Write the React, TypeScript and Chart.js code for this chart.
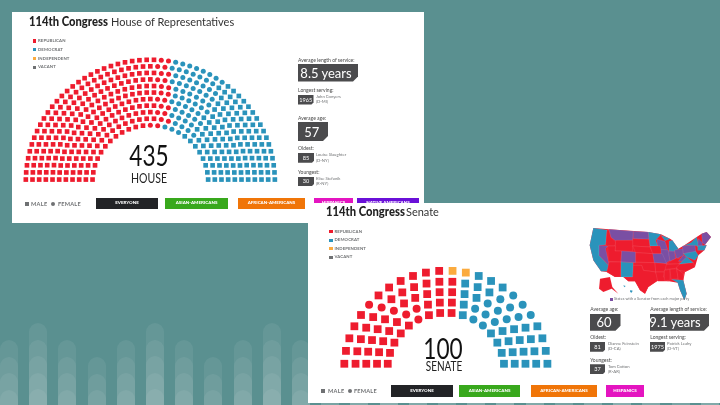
import React, { useEffect, useRef } from "react";
import { Chart, registerables } from "chart.js";

Chart.register(...registerables);

const FONT = "Lato, 'Open Sans', sans-serif";
const RED = "#ee1c2e";
const BLUE = "#2a93bb";
const ORANGE = "#fbab3f";
const PURPLE = "#7a4fa3";
const GREY = "#6f7173";
const DARK = "#4b4b4d";

// House: rows from the inside out
const houseRadii = [59, 65.8, 72.6, 79.4, 86.2, 93, 99.8, 106.6, 113.4, 120.2, 127];
const houseRepMale = [12, 15, 16, 18, 19, 21, 22, 23, 25, 26, 28];
const houseRepFemale = [2, 2, 2, 2, 2, 2, 2, 2, 2, 2, 2];
const houseDemFemale = [3, 4, 4, 5, 5, 6, 6, 7, 7, 7, 8];
const houseDemMale = [8, 7, 9, 9, 11, 11, 12, 13, 14, 16, 16];

// Senate: rows from the inside out. R/r republican male/female, D/d democrat male/female, I independent
const senateRadii = [60, 71, 82, 93, 104.5];
const senateRows = [
  "RRRRRrRRRDddDDDD",
  "RRRRRrrRRRDdddDDDD",
  "RRRRRrRRRRRDDdddDDDD",
  "RRRRRrRRRRRRDDDdddDDDD",
  "RRRRRrRRRRRRIIDDDdddDDDD",
];

const legendLabels = ["REPUBLICAN", "DEMOCRAT", "INDEPENDENT", "VACANT"];
const legendColors = [RED, BLUE, ORANGE, GREY];

const stripeTops = [340, 323, 340, 357];

type Seat = { x: number; y: number };

function seatAt(radius: number, lift: number, index: number, count: number): Seat {
  const start = Math.asin(lift / radius);
  const a = Math.PI - start - ((Math.PI - 2 * start) * index) / (count - 1);
  return { x: radius * Math.cos(a), y: radius * Math.sin(a) };
}

function houseSeats() {
  const groups: Seat[][] = [[], [], [], []];
  houseRadii.forEach((r, i) => {
    const counts = [houseRepMale[i], houseRepFemale[i], houseDemFemale[i], houseDemMale[i]];
    const total = counts.reduce((a, b) => a + b, 0);
    let idx = 0;
    counts.forEach((c, g) => {
      for (let k = 0; k < c; k++) groups[g].push(seatAt(r, 2.5, idx++, total));
    });
  });
  return groups;
}

function senateSeats() {
  const groups: Record<string, Seat[]> = { R: [], r: [], D: [], d: [], I: [] };
  senateRows.forEach((row, i) => {
    row.split("").forEach((c, idx) => groups[c].push(seatAt(senateRadii[i], 6, idx, row.length)));
  });
  return groups;
}

function makeChart(
  canvas: HTMLCanvasElement,
  datasets: any[],
  xr: [number, number],
  yr: [number, number]
) {
  return new Chart(canvas, {
    type: "scatter",
    data: { datasets: datasets.map((d) => ({ ...d, clip: false, borderWidth: 0 })) },
    options: {
      animation: false,
      responsive: false,
      maintainAspectRatio: false,
      layout: { padding: 0 },
      plugins: { legend: { display: false }, tooltip: { enabled: false } },
      scales: {
        x: { type: "linear", display: false, min: xr[0], max: xr[1] },
        y: { type: "linear", display: false, min: yr[0], max: yr[1] },
      },
    },
  });
}

function T(p: {
  x: number;
  y: number;
  s: number;
  c?: string;
  w?: number;
  a?: "l" | "c";
  ls?: number;
  sx?: number;
  children: React.ReactNode;
}) {
  const sx = p.sx ?? 1;
  return (
    <span
      style={{
        position: "absolute",
        left: p.x,
        top: p.y,
        transform:
          (p.a === "c" ? "translate(-50%,-50%)" : "translateY(-50%)") + (sx !== 1 ? ` scaleX(${sx})` : ""),
        transformOrigin: p.a === "c" ? "center" : "left center",
        fontSize: p.s,
        lineHeight: 1,
        color: p.c ?? "#4a4a4a",
        fontWeight: p.w ?? 400,
        letterSpacing: p.ls ?? 0,
        whiteSpace: "nowrap",
        fontFamily: FONT,
      }}
    >
      {p.children}
    </span>
  );
}

function Box(p: { x: number; y: number; x2: number; y2: number; c: string; cut?: number; children?: React.ReactNode }) {
  const w = p.x2 - p.x;
  const h = p.y2 - p.y;
  const cut = p.cut ?? 0;
  return (
    <div
      style={{
        position: "absolute",
        left: p.x,
        top: p.y,
        width: w,
        height: h,
        background: p.c,
        clipPath: cut
          ? `polygon(0 0,100% 0,100% ${h - cut}px,${w - cut}px 100%,0 100%)`
          : undefined,
      }}
    >
      {p.children}
    </div>
  );
}

function Btn(p: { x: number; x2: number; y: number; y2: number; c: string; label: string }) {
  return (
    <>
      <Box x={p.x} x2={p.x2} y={p.y} y2={p.y2} c={p.c} />
      <T x={(p.x + p.x2) / 2} y={(p.y + p.y2) / 2 - 0.5} s={4.5} c="#fff" w={900} a="c">
        {p.label}
      </T>
    </>
  );
}

function Badge(p: { x: number; x2: number; y: number; y2: number; s: number; label: string; tx?: number; cut?: number }) {
  return (
    <>
      <Box x={p.x} x2={p.x2} y={p.y} y2={p.y2} c={DARK} cut={p.cut ?? 2} />
      <T x={p.tx ?? (p.x + p.x2) / 2} y={(p.y + p.y2) / 2} s={p.s} c="#fff" a="c">
        {p.label}
      </T>
    </>
  );
}

const mapOutline =
  "25,18 72,22 190,30 228,37 255,50 262,55 280,80 298,70 335,45 350,35 365,30 378,45 360,68 365,70 358,85 340,100 330,135 300,150 295,175 305,215 298,235 285,205 278,182 252,178 220,175 190,195 180,215 165,205 150,178 130,178 115,165 90,165 65,150 48,148 25,115 14,70";

const mapShapes: [string, string][] = [
  [BLUE, "25,18 66,24 62,68 42,70 42,100 72,132 68,148 48,148 25,115 14,70"],
  [PURPLE, "42,70 68,72 62,80 70,118 72,130 42,100"],
  [RED, "66,24 72,24 78,46 92,60 90,72 68,72 62,70"],
  [PURPLE, "72,22 145,28 143,55 92,56 78,46"],
  [PURPLE, "145,28 190,30 192,52 145,50"],
  [RED, "143,50 192,52 195,75 143,72"],
  [RED, "92,55 143,55 143,88 90,87"],
  [RED, "68,72 92,72 90,87 110,87 108,120 70,118"],
  [PURPLE, "110,87 152,90 152,122 108,120"],
  [RED, "72,120 108,120 106,165 90,165 65,150"],
  [BLUE, "108,120 145,122 143,165 108,165"],
  [RED, "143,72 195,75 205,95 152,92"],
  [RED, "152,92 205,95 208,122 152,120"],
  [RED, "145,122 210,122 212,150 175,145 170,130 145,130"],
  [RED, "145,130 170,130 175,145 212,150 220,175 190,195 180,215 165,205 150,178 130,178 115,165 143,165"],
  [BLUE, "190,30 228,37 212,55 218,72 195,72"],
  [PURPLE, "215,52 240,58 248,82 225,84 218,72"],
  [RED, "195,72 225,72 232,95 203,95"],
  [PURPLE, "228,82 250,84 255,115 240,125 228,100"],
  [PURPLE, "203,95 232,95 245,125 208,122"],
  [PURPLE, "250,88 268,86 272,110 255,118"],
  [BLUE, "252,58 262,55 280,80 270,88 252,86"],
  [BLUE, "228,40 255,50 240,56"],
  [PURPLE, "268,84 295,80 295,100 275,110"],
  [RED, "245,125 255,118 275,108 290,112 280,127"],
  [PURPLE, "280,118 295,100 305,105 292,118"],
  [PURPLE, "292,72 330,68 332,90 295,95"],
  [BLUE, "298,70 318,62 335,45 342,75 330,70"],
  [BLUE, "282,127 305,105 325,122"],
  [BLUE, "295,95 332,88 340,100 330,115 305,105"],
  [RED, "270,128 325,122 330,135 300,150 280,145"],
  [RED, "280,145 300,148 290,172 275,140"],
  [RED, "240,128 285,125 270,140 238,142"],
  [RED, "210,122 245,125 238,150 212,150"],
  [RED, "212,150 238,150 235,165 252,178 218,178"],
  [RED, "238,145 255,142 255,175 238,175"],
  [RED, "255,142 275,140 280,170 258,172"],
  [RED, "275,140 295,155 295,175 280,175"],
  [BLUE, "260,172 295,175 305,215 298,235 285,205 278,182"],
  [PURPLE, "350,35 365,30 378,45 360,68 352,62"],
  [PURPLE, "340,50 352,62 352,72 338,72"],
  [BLUE, "338,72 365,70 358,85 338,85"],
  [RED, "45,170 75,165 82,195 100,215 80,200 55,210 42,200"],
  [BLUE, "115,190 122,192 118,196"],
  [BLUE, "136,204 143,206 140,212 135,210"],
];

export default function App() {
  const houseRef = useRef<HTMLCanvasElement>(null);
  const senateRef = useRef<HTMLCanvasElement>(null);

  useEffect(() => {
    const h = houseSeats();
    const c1 = makeChart(
      houseRef.current!,
      [
        { label: "Republican male", data: h[0], pointStyle: "rect", pointRadius: 3.3, backgroundColor: RED },
        { label: "Republican female", data: h[1], pointStyle: "circle", pointRadius: 2.5, backgroundColor: RED },
        { label: "Democrat female", data: h[2], pointStyle: "circle", pointRadius: 2.5, backgroundColor: BLUE },
        { label: "Democrat male", data: h[3], pointStyle: "rect", pointRadius: 3.3, backgroundColor: BLUE },
      ],
      [-137, 275],
      [-38.5, 172.5]
    );
    const s = senateSeats();
    const c2 = makeChart(
      senateRef.current!,
      [
        { label: "Republican male", data: s.R, pointStyle: "rect", pointRadius: 5.5, backgroundColor: RED },
        { label: "Republican female", data: s.r, pointStyle: "circle", pointRadius: 4, backgroundColor: RED },
        { label: "Independent", data: s.I, pointStyle: "rect", pointRadius: 5.5, backgroundColor: ORANGE },
        { label: "Democrat female", data: s.d, pointStyle: "circle", pointRadius: 4, backgroundColor: BLUE },
        { label: "Democrat male", data: s.D, pointStyle: "rect", pointRadius: 5.5, backgroundColor: BLUE },
      ],
      [-136, 276],
      [-29.7, 170.3]
    );
    return () => {
      c1.destroy();
      c2.destroy();
    };
  }, []);

  const stripes: React.ReactNode[] = [];
  for (let i = 0; i < 25; i++) {
    const cx = 9 + i * 29.2;
    const top = stripeTops[i % 4];
    for (let y = top; y < 400; y += 16.5) {
      stripes.push(
        <div
          key={`${i}-${y}`}
          style={{
            position: "absolute",
            left: cx - 9,
            top: y,
            width: 18,
            height: 405 - y,
            borderRadius: "9px 9px 0 0",
            background: "rgba(255,255,255,0.065)",
          }}
        />
      );
    }
  }

  return (
    <div style={{ position: "fixed", left: 0, top: 0, width: 720, height: 405, overflow: "hidden", background: "#5a9090", fontFamily: FONT }}>
      {stripes}

      {/* House panel */}
      <div style={{ position: "absolute", left: 12, top: 12, width: 412, height: 211, background: "#fff" }} />
      <canvas ref={houseRef} width={412} height={211} style={{ position: "absolute", left: 12, top: 12, display: "block" }} />
      <T x={29} y={22} s={12.2} c="#222" w={900} sx={0.92}>114th Congress</T>
      <T x={111} y={22} s={12.2} c="#333" sx={0.9}>House of Representatives</T>
      {legendLabels.map((l, i) => (
        <React.Fragment key={l}>
          <Box x={33} x2={36.4} y={41 + i * 8.8 - 1.7} y2={41 + i * 8.8 + 1.7} c={legendColors[i]} />
          <T x={38} y={41 + i * 8.8} s={4.3} c={GREY} w={700} ls={0.1}>{l}</T>
        </React.Fragment>
      ))}
      <T x={148.6} y={154} s={29} c="#111" a="c" sx={0.78}>435</T>
      <T x={149} y={179} s={13.5} c="#222" a="c" sx={0.78}>HOUSE</T>
      <Box x={25} x2={29} y={202} y2={206} c={GREY} />
      <T x={31} y={204} s={5.6} c={GREY} w={700} ls={0.3}>MALE</T>
      <div style={{ position: "absolute", left: 51, top: 202, width: 4, height: 4, borderRadius: 2, background: GREY }} />
      <T x={58} y={204} s={5.6} c={GREY} w={700} ls={0.2}>FEMALE</T>
      <Btn x={96} x2={158} y={198} y2={209} c="#222326" label="EVERYONE" />
      <Btn x={165} x2={228} y={198} y2={209} c="#38a81c" label="ASIAN-AMERICANS" />
      <Btn x={238} x2={305} y={198} y2={209} c="#f07508" label="AFRICAN-AMERICANS" />
      <Btn x={314} x2={353} y={198} y2={209} c="#e414c0" label="HISPANICS" />
      <Btn x={357} x2={419} y={198} y2={209} c="#6a10d8" label="NATIVE AMERICANS" />

      <T x={298} y={60} s={5}>Average length of service:</T>
      <Badge x={298} x2={358} y={63.5} y2={81.5} s={13} label="8.5 years" cut={5} tx={326} />
      <T x={298} y={89.7} s={5}>Longest serving:</T>
      <Badge x={298} x2={313.5} y={95} y2={104.5} s={5.6} label="1965" />
      <T x={316} y={97} s={4.2} c={GREY}>John Conyers</T>
      <T x={316} y={102} s={4.2} c={GREY}>(D-MI)</T>
      <T x={298} y={117.7} s={5}>Average age:</T>
      <Badge x={298} x2={328} y={122} y2={141} s={13} label="57" cut={5} tx={311.7} />
      <T x={298} y={148} s={5}>Oldest:</T>
      <Badge x={298} x2={314} y={153} y2={162.7} s={5.6} label="85" />
      <T x={316} y={155.3} s={4.2} c={GREY}>Louise Slaughter</T>
      <T x={316} y={161} s={4.2} c={GREY}>(D-NY)</T>
      <T x={298} y={172} s={5}>Youngest:</T>
      <Badge x={298} x2={314} y={176.7} y2={186} s={5.6} label="30" />
      <T x={316} y={179} s={4.2} c={GREY}>Elise Stefanik</T>
      <T x={316} y={184} s={4.2} c={GREY}>(R-NY)</T>

      {/* Senate panel */}
      <div style={{ position: "absolute", left: 308, top: 203, width: 412, height: 200, background: "#fff" }} />
      <canvas ref={senateRef} width={412} height={200} style={{ position: "absolute", left: 308, top: 203, display: "block" }} />
      <T x={325.5} y={212} s={12.2} c="#222" w={900} sx={0.92}>114th Congress</T>
      <T x={406} y={212} s={12.2} c="#333" sx={0.9}>Senate</T>
      {legendLabels.map((l, i) => (
        <React.Fragment key={l}>
          <Box x={329.3} x2={332.7} y={231.7 + i * 8.5 - 1.7} y2={231.7 + i * 8.5 + 1.7} c={legendColors[i]} />
          <T x={334.5} y={231.7 + i * 8.5} s={4.3} c={GREY} w={700} ls={0.1}>{l}</T>
        </React.Fragment>
      ))}
      <T x={443} y={347} s={29} c="#111" a="c" sx={0.78}>100</T>
      <T x={444} y={367} s={13.5} c="#222" a="c" sx={0.74}>SENATE</T>
      <Box x={321} x2={325} y={389} y2={393} c={GREY} />
      <T x={328} y={391} s={5.6} c={GREY} w={700} ls={0.3}>MALE</T>
      <div style={{ position: "absolute", left: 348, top: 389, width: 4, height: 4, borderRadius: 2, background: GREY }} />
      <T x={354} y={391} s={5.6} c={GREY} w={700} ls={0.2}>FEMALE</T>
      <Btn x={391} x2={453} y={385} y2={397} c="#222326" label="EVERYONE" />
      <Btn x={459} x2={520} y={385} y2={397} c="#38a81c" label="ASIAN-AMERICANS" />
      <Btn x={531} x2={597} y={385} y2={397} c="#f07508" label="AFRICAN-AMERICANS" />
      <Btn x={606} x2={644} y={385} y2={397} c="#e414c0" label="HISPANICS" />

      <svg width={130} height={90} viewBox="0 0 390 270" style={{ position: "absolute", left: 585, top: 222 }}>
        <polygon points={mapOutline} fill={RED} />
        {mapShapes.map(([c, pts], i) => (
          <polygon key={i} points={pts} fill={c} stroke="#fff" strokeOpacity={0.3} strokeWidth={0.8} />
        ))}
      </svg>
      <Box x={609.5} x2={612.5} y={297.5} y2={300.5} c={PURPLE} />
      <T x={614} y={299} s={4} c={GREY} sx={0.98}>States with a Senator from each major party</T>

      <T x={590.3} y={308.7} s={5}>Average age:</T>
      <Badge x={590} x2={620.5} y={313.7} y2={330.7} s={13} label="60" cut={5} tx={604} />
      <T x={650.3} y={308.7} s={5}>Average length of service:</T>
      <Badge x={650} x2={709} y={313.7} y2={330.7} s={13} label="9.1 years" cut={5} tx={675} />
      <T x={590.3} y={337} s={5}>Oldest:</T>
      <Badge x={590} x2={605} y={342} y2={351.7} s={5.6} label="81" />
      <T x={608} y={344} s={4.2} c={GREY}>Dianne Feinstein</T>
      <T x={608} y={349.3} s={4.2} c={GREY}>(D-CA)</T>
      <T x={650.3} y={337} s={5}>Longest serving:</T>
      <Badge x={650} x2={665} y={342} y2={351.7} s={5.6} label="1975" />
      <T x={667} y={344} s={4.2} c={GREY}>Patrick Leahy</T>
      <T x={667} y={349.3} s={4.2} c={GREY}>(D-VT)</T>
      <T x={590.3} y={359.7} s={5}>Youngest:</T>
      <Badge x={590} x2={605} y={364.3} y2={374} s={5.6} label="37" />
      <T x={608} y={366.7} s={4.2} c={GREY}>Tom Cotton</T>
      <T x={608} y={372} s={4.2} c={GREY}>(R-AR)</T>
    </div>
  );
}
